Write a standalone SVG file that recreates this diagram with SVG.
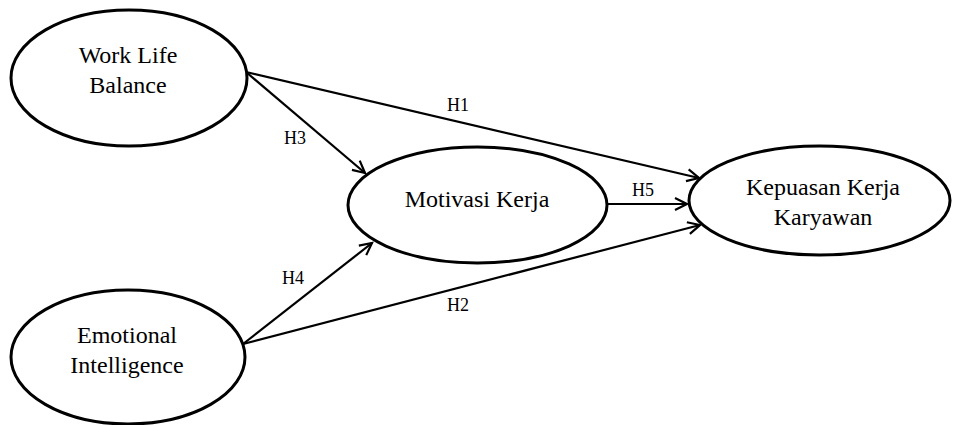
<svg xmlns="http://www.w3.org/2000/svg" width="957" height="425" viewBox="0 0 957 425">
<style>
.node ellipse{fill:#fff;stroke:#000;stroke-width:3}
.node text{font-family:"Liberation Serif","Times New Roman",serif;font-size:24px;fill:#000;text-anchor:middle}
.conn line{stroke:#000;stroke-width:2.2;marker-end:url(#arr)}
.lbl{font-family:"Liberation Serif","Times New Roman",serif;font-size:18px;fill:#000;text-anchor:middle}
</style>
<defs>
<marker id="arr" markerUnits="userSpaceOnUse" markerWidth="14" markerHeight="14" refX="12" refY="6" orient="auto" overflow="visible">
<path d="M0,0 L12,6 L0,12" fill="none" stroke="#000" stroke-width="2.2"/>
</marker>
</defs>
<rect width="957" height="425" fill="#fff"/>
<g id="connectors" class="conn">
<line x1="246" y1="72" x2="699" y2="178"/>
<line x1="246" y1="72" x2="365" y2="173"/>
<line x1="607" y1="204" x2="687" y2="204"/>
<line x1="243" y1="344" x2="700" y2="225"/>
<line x1="243" y1="344" x2="372" y2="243"/>
</g>
<g id="labels">
<text class="lbl" x="458" y="111">H1</text>
<text class="lbl" x="295" y="144">H3</text>
<text class="lbl" x="643" y="196">H5</text>
<text class="lbl" x="293" y="284">H4</text>
<text class="lbl" x="458" y="311">H2</text>
</g>
<g id="wlb" class="node">
<ellipse cx="129" cy="78" rx="118" ry="68"/>
<text x="128" y="63">Work Life</text>
<text x="128" y="93">Balance</text>
</g>
<g id="ei" class="node">
<ellipse cx="128" cy="357" rx="117" ry="67"/>
<text x="127" y="343">Emotional</text>
<text x="127" y="373">Intelligence</text>
</g>
<g id="mk" class="node">
<ellipse cx="477.5" cy="205" rx="129.5" ry="58"/>
<text x="477" y="207">Motivasi Kerja</text>
</g>
<g id="kkk" class="node">
<ellipse cx="819.5" cy="200.5" rx="130.5" ry="54.5"/>
<text x="823" y="195">Kepuasan Kerja</text>
<text x="823" y="225">Karyawan</text>
</g>
</svg>
